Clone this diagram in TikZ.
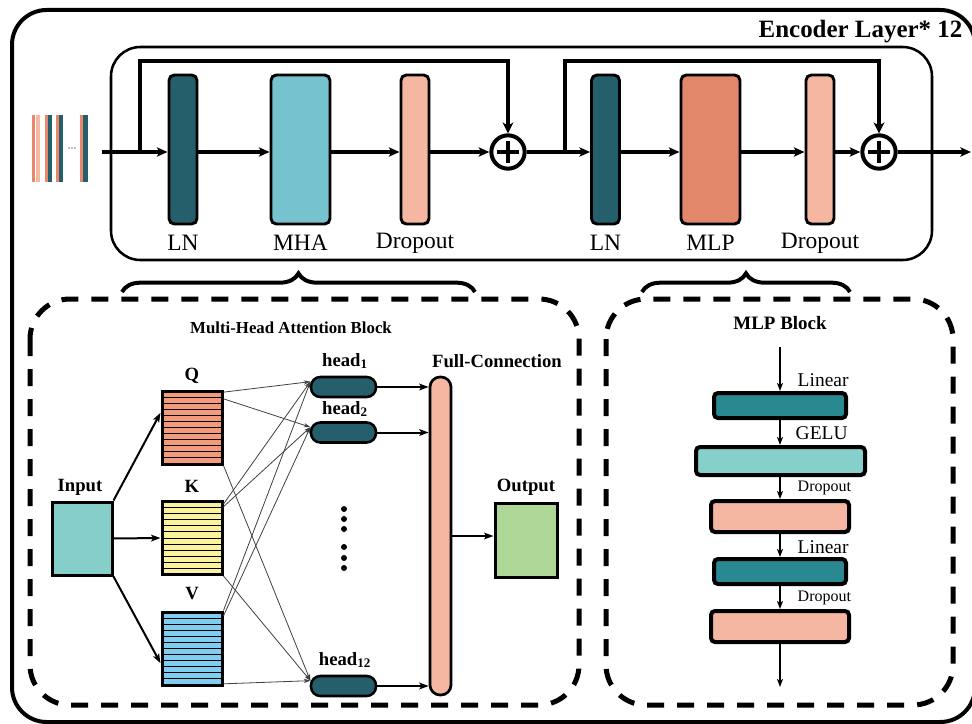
\documentclass[tikz,border=0pt]{standalone}
\usepackage{fontspec}
\setmainfont{Liberation Serif}
\usetikzlibrary{arrows.meta,calc,decorations.pathreplacing}

\definecolor{lnteal}{HTML}{245F6B}
\definecolor{mhacyan}{HTML}{76C3CF}
\definecolor{droppeach}{HTML}{F5B7A1}
\definecolor{mlporange}{HTML}{E2876A}
\definecolor{barorange}{HTML}{E8876B}
\definecolor{inputteal}{HTML}{86CEC9}
\definecolor{qorange}{HTML}{F39A7A}
\definecolor{kyellow}{HTML}{FAF29C}
\definecolor{vblue}{HTML}{80CDF0}
\definecolor{outgreen}{HTML}{AED697}
\definecolor{lineteal}{HTML}{2A8891}
\definecolor{geluteal}{HTML}{86CFCB}

\begin{document}
\begin{tikzpicture}[x=0.75pt,y=-0.75pt,
  enc/.style={draw, line width=2.2pt, rounded corners=4pt, inner sep=0pt, minimum height=111.75pt},
  narrowbox/.style={enc, minimum width=21pt},
  widebox/.style={enc, minimum width=44.25pt},
  lbl/.style={font=\fontsize{17.6}{20}\selectfont},
  boldlbl/.style={font=\bfseries\fontsize{14}{16}\selectfont},
  mainarrow/.style={line width=3pt, -{Stealth[length=8pt,width=7pt,inset=2pt]}},
  skipline/.style={line width=3.6pt, line join=miter, -{Stealth[length=8pt,width=8pt,inset=2pt]}},
  adder/.style={circle, draw, fill=white, line width=3pt, minimum size=25pt, inner sep=0pt,
    path picture={
      \draw[line width=2.3pt] ([xshift=-8pt]path picture bounding box.center) -- ([xshift=8pt]path picture bounding box.center);
      \draw[line width=2.3pt] ([yshift=-8pt]path picture bounding box.center) -- ([yshift=8pt]path picture bounding box.center);
    }},
  bracestyle/.style={decorate, decoration={brace, amplitude=14pt}, line width=3pt},
  dashframe/.style={line width=3.75pt, dash pattern=on 12.75pt off 9.75pt, rounded corners=30pt},
  matbox/.style={draw, line width=2.25pt, inner sep=0pt, minimum width=45pt, minimum height=54.75pt},
  stripes/.style={path picture={
      \foreach \k in {1,...,11}{
        \draw[line width=0.7pt] ($(path picture bounding box.north west)!{\k/12}!(path picture bounding box.south west)$)
          -- ($(path picture bounding box.north east)!{\k/12}!(path picture bounding box.south east)$);
      }}},
  headpill/.style={draw, fill=lnteal, line width=1.9pt, rounded corners=7pt, inner sep=0pt,
    minimum width=48.75pt, minimum height=15pt},
  midarrow/.style={line width=1.5pt, -{Stealth[length=7pt,width=5pt,inset=1.5pt]}},
  thinarrow/.style={line width=0.6pt, draw=black!75, -{Stealth[length=5pt,width=3.2pt]}},
  mlpbox/.style={draw, line width=3pt, rounded corners=3pt, inner sep=0pt},
  mlparrow/.style={line width=1.1pt, -{Stealth[length=6pt,width=4.5pt,inset=1.5pt]}},
  mlplbl/.style={anchor=west, font=\fontsize{14.6}{16}\selectfont},
  mlpsmall/.style={anchor=west, font=\fontsize{12}{14}\selectfont},
  dotmark/.style={circle, fill=black, inner sep=0pt, minimum size=4.5pt},
  tokdot/.style={circle, fill=black!50, inner sep=0pt, minimum size=1.2pt}
]
\useasboundingbox (0,0) rectangle (972,724);
\clip (0,0) rectangle (972,724);

% ---------- outer frame and encoder layer ----------
\draw[line width=3pt, rounded corners=26pt] (12,10) rectangle (975,722);
\node[anchor=east, font=\bfseries\fontsize{18.7}{20}\selectfont] (enctitle) at (967,32) {Encoder Layer* 12};
\draw[line width=1.9pt, rounded corners=22pt] (111,47) rectangle (932,260);

% token sequence
\fill[barorange]  (32,115) rectangle (35,182);
\fill[droppeach]  (36,115) rectangle (40,182);
\fill[barorange]  (45,115) rectangle (47.5,182);
\fill[lnteal]     (48,115) rectangle (52,182);
\fill[barorange]  (56,115) rectangle (58.5,182);
\fill[lnteal]     (59,115) rectangle (63,182);
\node[tokdot] (tk1) at (69,148) {};
\node[tokdot] (tk2) at (72,148) {};
\node[tokdot] (tk3) at (75,148) {};
\fill[barorange]  (80,115) rectangle (82.5,182);
\fill[lnteal]     (83,115) rectangle (88,182);

% encoder blocks
\node[narrowbox, fill=lnteal]    (LNa)  at (183,149.5) {};
\node[widebox,  fill=mhacyan]    (MHA)  at (300.5,149.5) {};
\node[narrowbox, fill=droppeach] (DRa)  at (415,149.5) {};
\node[adder] (plusA) at (508,152) {};
\node[narrowbox, fill=lnteal]    (LNb)  at (605.5,149.5) {};
\node[widebox,  fill=mlporange]  (MLP)  at (710.5,149.5) {};
\node[narrowbox, fill=droppeach] (DRb)  at (820,149.5) {};
\node[adder] (plusB) at (879,152) {};

\node[lbl] (tLNa) at (183,243) {LN};
\node[lbl] (tMHA) at (300.5,243) {MHA};
\node[lbl] (tDRa) at (415,243) {Dropout};
\node[lbl] (tLNb) at (605.5,243) {LN};
\node[lbl] (tMLP) at (710.5,243) {MLP};
\node[lbl] (tDRb) at (820,243) {Dropout};

\coordinate (inStart) at (102,152);
\coordinate (skA) at (140,152);
\coordinate (topA) at (140,61);
\coordinate (skB) at (565,152);
\coordinate (topB) at (565,61);
\coordinate (outEnd) at (971,152);

\draw[mainarrow] (inStart) -- (LNa.west |- plusA);
\draw[mainarrow] (LNa.east |- plusA) -- (MHA.west |- plusA);
\draw[mainarrow] (MHA.east |- plusA) -- (DRa.west |- plusA);
\draw[mainarrow] (DRa.east |- plusA) -- (plusA.west);
\draw[mainarrow] (plusA.east) -- (LNb.west |- plusB);
\draw[mainarrow] (LNb.east |- plusB) -- (MLP.west |- plusB);
\draw[mainarrow] (MLP.east |- plusB) -- (DRb.west |- plusB);
\draw[mainarrow] (DRb.east |- plusB) -- (plusB.west);
\draw[mainarrow] (plusB.east) -- (outEnd);
\draw[skipline] (skA) -- (topA) -| (plusA.north);
\draw[skipline] (skB) -- (topB) -| (plusB.north);

% braces
\draw[bracestyle] (122,292) -- (475,292);
\draw[bracestyle] (642,292) -- (850,292);

% ---------- multi-head attention block ----------
\draw[dashframe] (30,299) rectangle (579,705);
\node[font=\bfseries\fontsize{12.6}{14}\selectfont] (mhatitle) at (291,328) {Multi-Head Attention Block};

\node[matbox, fill=inputteal] (In) at (82,538.5) {};
\node[boldlbl] (tIn) at (80,487) {Input};
\node[matbox, fill=qorange, stripes] (Q) at (192,427.5) {};
\node[matbox, fill=kyellow, stripes] (K) at (192,538) {};
\node[matbox, fill=vblue,   stripes] (V) at (192,648.5) {};
\node[boldlbl] (tQ) at (192,376) {Q};
\node[boldlbl] (tK) at (192,486) {K};
\node[boldlbl] (tV) at (192,594) {V};

\draw[midarrow] (In.north east) -- (Q.155);
\draw[midarrow] (In.east) -- (K.west);
\draw[midarrow] (In.south east) -- (V.205);

\node[headpill] (hA) at (343.5,387) {};
\node[headpill] (hB) at (343.5,432.5) {};
\node[headpill] (hC) at (343.5,686) {};
\node[font=\bfseries\fontsize{14}{16}\selectfont] (thA) at (345,361) {head\textsubscript{1}};
\node[font=\bfseries\fontsize{14}{16}\selectfont] (thB) at (345,409) {head\textsubscript{2}};
\node[font=\bfseries\fontsize{14}{16}\selectfont] (thC) at (345,660) {head\textsubscript{12}};

\coordinate (tgA) at ([xshift=0.5pt,yshift=4pt]hA.west);
\coordinate (tgB) at ([xshift=0.5pt,yshift=4pt]hB.west);
\coordinate (tgC) at ([xshift=0.5pt,yshift=4pt]hC.west);
\draw[thinarrow] ([yshift=-2pt]Q.north east) -- (tgA);
\draw[thinarrow] ([yshift=-7pt]Q.north east) -- (tgB);
\draw[thinarrow] (Q.south east) -- (tgC);
\draw[thinarrow] ([yshift=-3pt]K.north east) -- (tgA);
\draw[thinarrow] ([yshift=-5pt]K.north east) -- (tgB);
\draw[thinarrow] (K.south east) -- (tgC);
\draw[thinarrow] (V.north east) -- (tgA);
\draw[thinarrow] ([yshift=-4pt]V.north east) -- (tgB);
\draw[thinarrow] ([yshift=2pt]V.south east) -- (tgC);

\node[dotmark] (d1) at (344,509) {};
\node[dotmark] (d2) at (344,519) {};
\node[dotmark] (d3) at (344,529) {};
\node[dotmark] (d4) at (344,547) {};
\node[dotmark] (d5) at (344,558) {};
\node[dotmark] (d6) at (344,568) {};

\node[draw, fill=droppeach, line width=2pt, rounded corners=7.5pt, inner sep=0pt,
      minimum width=15.75pt, minimum height=238.5pt] (FC) at (440.5,536) {};
\node[boldlbl] (tFC) at (497,361) {Full-Connection};
\draw[midarrow] (hA.east) -- (FC.west |- hA);
\draw[midarrow] (hB.east) -- (FC.west |- hB);
\draw[midarrow] (hC.east) -- (FC.west |- hC);

\node[draw, fill=outgreen, line width=2.25pt, inner sep=0pt, minimum width=46.5pt, minimum height=55.5pt] (Out) at (526,540) {};
\node[boldlbl] (tOut) at (526,487) {Output};
\draw[midarrow] (FC.east) -- (Out.west |- FC.east);

% ---------- MLP block ----------
\draw[dashframe] (606,299) rectangle (953,705);
\node[font=\bfseries\fontsize{14.2}{16}\selectfont] (mlptitle) at (780,323) {MLP Block};

\coordinate (mlpIn) at (780,347);
\coordinate (mlpOut) at (780,687);
\node[mlpbox, fill=lineteal,  minimum width=99pt,    minimum height=18.75pt] (L1) at (780,405.5) {};
\node[mlpbox, fill=geluteal,  minimum width=126.75pt, minimum height=21pt]  (G1) at (780.5,461) {};
\node[mlpbox, fill=droppeach, minimum width=103.5pt, minimum height=23.25pt] (D1) at (780,516.5) {};
\node[mlpbox, fill=lineteal,  minimum width=99pt,    minimum height=18.75pt] (L2) at (780,571.5) {};
\node[mlpbox, fill=droppeach, minimum width=103.5pt, minimum height=23.25pt] (D2) at (780,626.5) {};

\draw[mlparrow] (mlpIn) -- (L1.north);
\draw[mlparrow] (L1.south) -- (L1.south |- G1.north);
\draw[mlparrow] (L1.south |- G1.south) -- (D1.north);
\draw[mlparrow] (D1.south) -- (L2.north);
\draw[mlparrow] (L2.south) -- (D2.north);
\draw[mlparrow] (D2.south) -- (mlpOut);

\node[mlplbl]   (tL1) at (793,380) {Linear};
\node[mlplbl]   (tG1) at (791,433) {GELU};
\node[mlpsmall] (tD1) at (793,488) {Dropout};
\node[mlplbl]   (tL2) at (793,547) {Linear};
\node[mlpsmall] (tD2) at (793,598) {Dropout};
\end{tikzpicture}
\end{document}
